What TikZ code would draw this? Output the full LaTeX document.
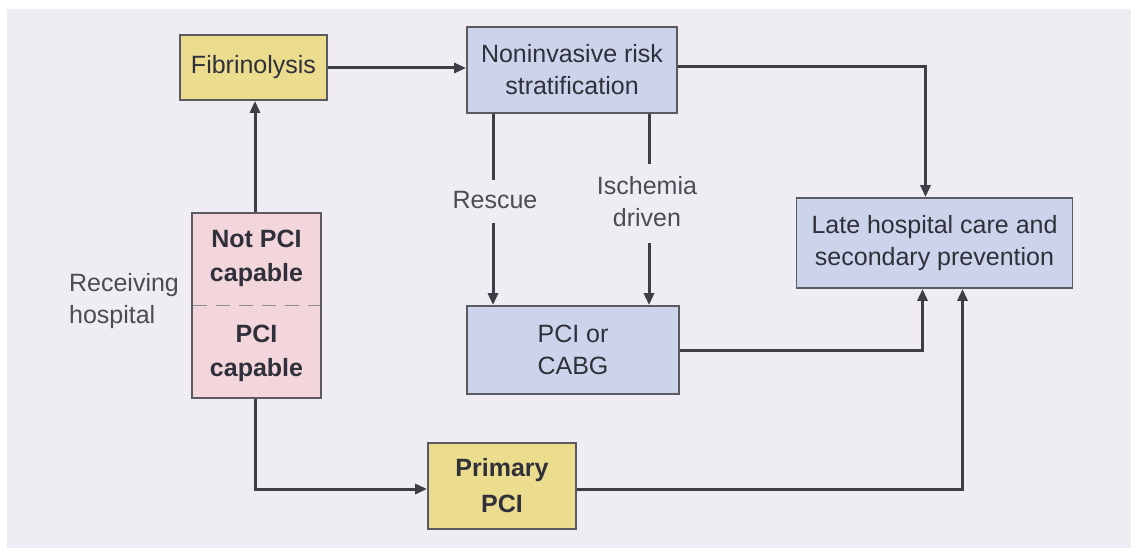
\documentclass[tikz,border=0pt]{standalone}
\usepackage{fontspec}
\setmainfont{Liberation Sans}
\usetikzlibrary{arrows.meta,calc}
\definecolor{bg}{HTML}{F0ECF3}
\definecolor{blueb}{HTML}{CBD4EB}
\definecolor{yellowb}{HTML}{EBDC8E}
\definecolor{pinkb}{HTML}{F2D6DC}
\definecolor{edge}{HTML}{5A5A60}
\definecolor{linec}{HTML}{3E3E46}
\definecolor{txt}{HTML}{30303A}
\definecolor{lbl}{HTML}{4C4C54}
\tikzset{
  box/.style={draw=edge, line width=1.8pt, inner sep=0pt, align=center, text=txt,
    font=\fontsize{25}{32}\selectfont},
  bluebox/.style={box, fill=blueb},
  yelbox/.style={box, fill=yellowb},
  pinkbox/.style={box, fill=pinkb},
  lab/.style={inner sep=0pt, align=center, text=lbl, font=\fontsize{25}{32}\selectfont},
  conn/.style={draw=linec, line width=3pt},
  arr/.style={conn, -{Triangle[length=12pt,width=10pt]}},
}
\begin{document}
\begin{tikzpicture}[x=1pt,y=-1pt]
\useasboundingbox (0,0) rectangle (1131,548);
\fill[white] (0,0) rectangle (1131,548);
\fill[bg] (7,9) rectangle (1131,548);

\node[yelbox, minimum width=147pt, minimum height=65pt] (fib) at (253.5,67.5) {Fibrinolysis};
\node[bluebox, minimum width=210pt, minimum height=86pt] (nonin) at (572,70) {Noninvasive risk\\stratification};
\node[bluebox, minimum width=276pt, minimum height=90pt] (late) at (934.5,243) {Late hospital care and\\secondary prevention};
\node[bluebox, minimum width=212pt, minimum height=88pt] (pci) at (573,350) {PCI or\\CABG};
\node[yelbox, minimum width=148pt, minimum height=86pt, font=\fontsize{25}{36}\selectfont\bfseries] (prim) at (502,486) {Primary\\PCI};
\node[pinkbox, minimum width=129pt, minimum height=185pt] (hosp) at (256.5,305.5) {};
\node[lab, text=txt, font=\fontsize{25}{34}\selectfont\bfseries] (notpci) at (256.5,258) {Not PCI\\capable};
\node[lab, text=txt, font=\fontsize{25}{34}\selectfont\bfseries] (pcicap) at (256.5,353) {PCI\\capable};
\draw[edge!70, line width=1.4pt, dash pattern=on 14pt off 9pt] ([xshift=2pt]hosp.west) -- ([xshift=-2pt]hosp.east);
\node[lab, align=left] (recv) at (124,301) {Receiving\\hospital};

\node[lab] (rescue) at (495,200) {Rescue};
\node[lab] (isch) at (647,202) {Ischemia\\driven};

\draw[arr] (hosp.north -| 255,0) -- (fib.south -| 255,0);
\draw[arr] (fib.east |- 0,68) -- (nonin.west |- 0,68);
\draw[arr] (nonin.east |- 0,67) -| ([xshift=-9pt]late.north);
\draw[conn] (nonin.south -| 493,0) -- (493,180);
\draw[arr] (493,223) -- (pci.north -| 493,0);
\draw[conn] (nonin.south -| 649,0) -- (649,164);
\draw[arr] (649,243) -- (pci.north -| 649,0);
\draw[arr] (pci.east) -| ([xshift=-12pt]late.south);
\draw[arr] (hosp.south -| 255,0) |- (prim.west |- 0,489);
\draw[arr] (prim.east |- 0,489) -| ([xshift=28pt]late.south);
\end{tikzpicture}
\end{document}
